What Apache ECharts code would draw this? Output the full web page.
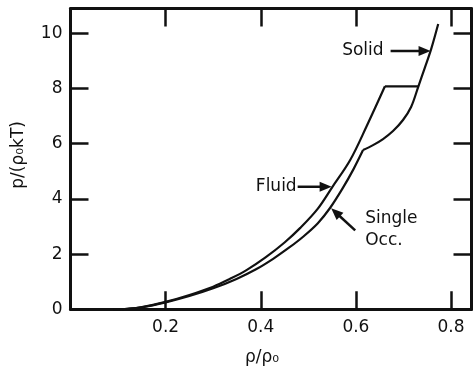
<!DOCTYPE html>
<html>
<head>
<meta charset="utf-8">
<script src="https://cdn.jsdelivr.net/npm/echarts@6/dist/echarts.min.js"></script>
<style>
  html, body { margin: 0; padding: 0; background: #fff; }
  #chart { width: 473px; height: 370px; }
</style>
</head>
<body>
<div id="chart"></div>
<script>
// Reduced pressure p/(rho0 kT) against reduced density rho/rho0

// Fluid branch, ending where the coexistence tie line starts
const fluid = [
  [0.09, 0], [0.12, 0.02], [0.15, 0.08], [0.2, 0.27], [0.25, 0.52], [0.3, 0.82],
  [0.335, 1.1], [0.37, 1.42], [0.41, 1.88], [0.45, 2.42], [0.483, 2.95], [0.52, 3.65],
  [0.55, 4.42], [0.588, 5.41], [0.623, 6.65], [0.661, 8.08]
];

// Single-occupancy branch up to where it meets the solid branch
const singleOcc = [
  [0.09, 0], [0.12, 0.02], [0.15, 0.07], [0.2, 0.25], [0.25, 0.48], [0.3, 0.76],
  [0.349, 1.1], [0.39, 1.45], [0.426, 1.83], [0.46, 2.24], [0.489, 2.63], [0.52, 3.12],
  [0.546, 3.68], [0.572, 4.38], [0.595, 5.08], [0.615, 5.77]
];

// Solid branch
const solid = [
  [0.615, 5.77], [0.636, 5.95], [0.657, 6.17], [0.678, 6.46], [0.699, 6.86],
  [0.716, 7.33], [0.731, 8.06], [0.745, 8.76], [0.758, 9.42], [0.773, 10.34]
];

// Fluid-solid coexistence (equal pressure) line
const tieLine = [[0.661, 8.08], [0.731, 8.08]];

const xTickLabels = [0.2, 0.4, 0.6, 0.8];
const yTickLabels = [0, 2, 4, 6, 8, 10];

// Curve labels and the point on each curve that its arrow touches
const calloutNames = ['Solid', 'Fluid', 'Single\nOcc.'];
const calloutTips = [[0.757, 9.36], [0.549, 4.44], [0.548, 3.66]];

const INK = '#111';
const FONT = '"DejaVu Sans", "Liberation Sans", sans-serif';

const chart = echarts.init(document.getElementById('chart'), null, { renderer: 'canvas' });

const xRange = { min: 0, max: 0.843, interval: 0.2 };
const yRange = { min: 0, max: 10.9, interval: 2 };

function frameAxis(pos, range, extra) {
  return Object.assign({
    type: 'value',
    position: pos,
    min: range.min,
    max: range.max,
    interval: range.interval,
    axisLine: { show: true, onZero: false, lineStyle: { color: INK, width: 3 } },
    axisTick: { show: true, inside: true, length: 18, lineStyle: { color: INK, width: 2.5 } },
    axisLabel: { show: false },
    splitLine: { show: false }
  }, extra || {});
}

function sameTick(list, v) {
  return list.some(t => Math.abs(t - v) < 1e-6);
}

const lineSeries = (name, data, smooth) => ({
  name: name,
  type: 'line',
  data: data,
  showSymbol: false,
  symbol: 'none',
  smooth: smooth ? 0.35 : false,
  lineStyle: { color: INK, width: 2.2 },
  xAxisIndex: 0,
  yAxisIndex: 0,
  z: 3
});

chart.setOption({
  animation: false,
  backgroundColor: '#fff',
  grid: {
    left: 70.5, right: 1.5, top: 8.5, bottom: 60.7,
    containLabel: false, outerBoundsMode: 'none'
  },
  xAxis: [
    frameAxis('bottom', xRange, {
      axisLabel: {
        show: true, margin: 10, color: INK, fontSize: 17, fontFamily: FONT,
        formatter: v => sameTick(xTickLabels, v) ? v.toFixed(1) : ''
      },
      name: 'ρ/ρ₀',
      nameLocation: 'middle',
      nameGap: 40,
      nameTextStyle: { color: INK, fontSize: 17, fontFamily: FONT, padding: [0, 18, 0, 0] }
    }),
    frameAxis('top', xRange)
  ],
  yAxis: [
    frameAxis('left', yRange, {
      axisLabel: {
        show: true, margin: 8, color: INK, fontSize: 17, fontFamily: FONT,
        formatter: v => sameTick(yTickLabels, v) ? String(Math.round(v)) : ''
      },
      name: 'p/(ρ₀kT)',
      nameLocation: 'middle',
      nameGap: 43,
      nameRotate: 90,
      nameTextStyle: { color: INK, fontSize: 17, fontFamily: FONT, padding: [0, 0, 0, 8] }
    }),
    frameAxis('right', yRange)
  ],
  series: [
    lineSeries('Fluid', fluid, true),
    lineSeries('Single Occ.', singleOcc, true),
    lineSeries('Solid', solid, true),
    lineSeries('Coexistence', tieLine, false)
  ]
});

// Arrow tails and label anchors, as pixel offsets from each arrow tip
const calloutLayout = [
  { tail: [-40, 0], text: [-47, 0], align: 'right' },
  { tail: [-34, 0], text: [-35, 0], align: 'right' },
  { tail: [24, 22], text: [34, 21], align: 'left' }
];

function arrowElements(tip, tail) {
  const dx = tip[0] - tail[0], dy = tip[1] - tail[1];
  const len = Math.hypot(dx, dy);
  const ux = dx / len, uy = dy / len;
  const headLen = 12, headHalf = 5;
  const bx = tip[0] - ux * headLen, by = tip[1] - uy * headLen;
  const px = -uy, py = ux;
  return [
    {
      type: 'line', silent: true, z: 10,
      shape: { x1: tail[0], y1: tail[1], x2: bx + ux, y2: by + uy },
      style: { stroke: INK, lineWidth: 2.5 }
    },
    {
      type: 'polygon', silent: true, z: 10,
      shape: { points: [[tip[0], tip[1]], [bx + px * headHalf, by + py * headHalf], [bx - px * headHalf, by - py * headHalf]] },
      style: { fill: INK }
    }
  ];
}

const graphics = [];
calloutNames.forEach((label, i) => {
  const tip = chart.convertToPixel({ gridIndex: 0 }, calloutTips[i]);
  const lay = calloutLayout[i];
  const tail = [tip[0] + lay.tail[0], tip[1] + lay.tail[1]];
  graphics.push(...arrowElements(tip, tail));
  graphics.push({
    type: 'text', silent: true, z: 10,
    x: tip[0] + lay.text[0],
    y: tip[1] + lay.text[1],
    style: {
      text: label,
      fill: INK,
      font: '17px ' + FONT,
      align: lay.align,
      verticalAlign: 'middle',
      textAlign: lay.align,
      textVerticalAlign: 'middle',
      lineHeight: 22
    }
  });
});

chart.setOption({ graphic: graphics });
</script>
</body>
</html>
